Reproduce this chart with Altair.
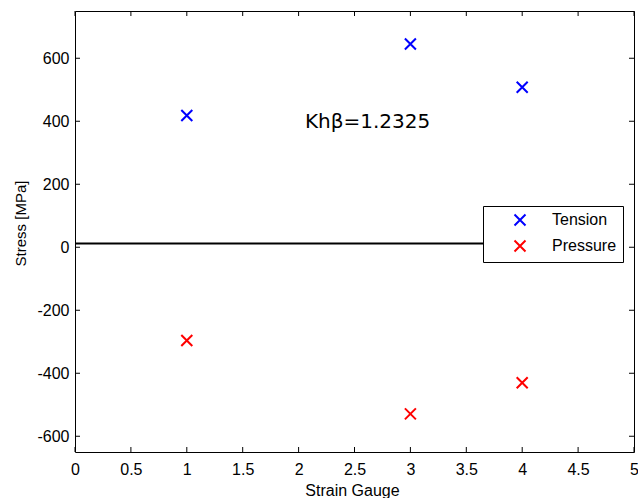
import altair as alt
import pandas as pd

# Strain gauge readings (MPa)
gauges = [1, 3, 4]
tension = [418, 645, 508]
pressure = [-296, -529, -430]
series = ["Tension", "Pressure"]
colors = ["#0000FF", "#FF0000"]

# Reference level line and annotation
ref_level = 12
ref_from, ref_to = 0, 4.5
note_text = "Khβ=1.2325"
note_x, note_y = 2.617, 378

# Axis ticks
x_ticks = [0, 0.5, 1, 1.5, 2, 2.5, 3, 3.5, 4, 4.5, 5]
y_ticks = [-600, -400, -200, 0, 200, 400, 600]
x_domain = [0, 5]
y_domain = [-650, 750]

W, H = 559, 441
FONT = "Liberation Sans"
TICK = 5

points = pd.DataFrame({
    "gauge": gauges * 2,
    "stress": tension + pressure,
    "series": [series[0]] * len(gauges) + [series[1]] * len(gauges),
})
xt = pd.DataFrame({"gauge": x_ticks})
yt = pd.DataFrame({"stress": y_ticks})
ref = pd.DataFrame({"gauge": [ref_from], "gauge2": [ref_to], "stress": [ref_level]})
note = pd.DataFrame({"gauge": [note_x], "stress": [note_y], "label": [note_text]})

xs = alt.Scale(domain=x_domain, nice=False, zero=False)
ys = alt.Scale(domain=y_domain, nice=False, zero=False)

x_axis = alt.Axis(
    values=x_ticks, ticks=False, tickSize=0, domain=False, grid=False,
    labelExpr="toString(datum.value)", labelFont=FONT, labelFontSize=16,
    labelColor="#000000", labelPadding=9, labelFlush=False,
    title="Strain Gauge", titleFont=FONT, titleFontSize=16,
    titleFontWeight="normal", titleColor="#000000",
    titleBaseline="alphabetic", titleY=43, titleX=277,
)
y_axis = alt.Axis(
    values=y_ticks, ticks=False, tickSize=0, domain=False, grid=False,
    labelExpr="toString(datum.value)", labelFont=FONT, labelFontSize=16,
    labelColor="#000000", labelPadding=6, labelFlush=False,
    title="Stress [MPa]", titleFont=FONT, titleFontSize=15,
    titleFontWeight="normal", titleColor="#000000",
    titleBaseline="alphabetic", titleX=-50, titleY=212, titleAngle=-90,
)


def xq(field="gauge"):
    return alt.X(f"{field}:Q", scale=xs, axis=x_axis)


def yq(field="stress"):
    return alt.Y(f"{field}:Q", scale=ys, axis=y_axis)


X_MARK = "M-1,-1L1,1M1,-1L-1,1"

marks = alt.Chart(points).mark_point(
    shape=X_MARK, size=121, filled=False, strokeWidth=2, opacity=1
).encode(
    x=xq(),
    y=yq(),
    color=alt.Color(
        "series:N",
        scale=alt.Scale(domain=series, range=colors),
        sort=series,
        legend=alt.Legend(
            title=None, orient="none", legendX=408, legendY=195,
            fillColor="#FFFFFF", strokeColor="#000000", padding=6,
            symbolType=X_MARK, symbolSize=121, symbolStrokeWidth=2,
            symbolFillColor="transparent", symbolOffset=23,
            labelFont=FONT, labelFontSize=16, labelColor="#000000",
            labelOffset=24, rowPadding=6,
        ),
    ),
)

ref_line = alt.Chart(ref).mark_rule(color="#000000", strokeWidth=2).encode(
    x=xq(), x2="gauge2:Q", y=yq(),
)

label = alt.Chart(note).mark_text(
    font="DejaVu Sans", fontSize=20, color="#000000",
    align="center", baseline="alphabetic",
).encode(
    x=xq(), y=yq(), text="label:N",
)

# Inward tick marks on all four sides
tick_style = dict(color="#000000", strokeWidth=1)
bottom_ticks = alt.Chart(xt).mark_rule(**tick_style).encode(
    x=xq(), y=alt.value(H), y2=alt.value(H - TICK))
top_ticks = alt.Chart(xt).mark_rule(**tick_style).encode(
    x=xq(), y=alt.value(0), y2=alt.value(TICK))
left_ticks = alt.Chart(yt).mark_rule(**tick_style).encode(
    y=yq(), x=alt.value(0), x2=alt.value(TICK))
right_ticks = alt.Chart(yt).mark_rule(**tick_style).encode(
    y=yq(), x=alt.value(W), x2=alt.value(W - TICK))

chart = alt.layer(
    ref_line, bottom_ticks, top_ticks, left_ticks, right_ticks, label, marks
).properties(
    width=W, height=H,
    autosize=alt.AutoSizeParams(type="none"),
    padding={"left": 75, "top": 11, "right": 4, "bottom": 46},
    background="#FFFFFF",
).configure_view(
    stroke="#000000", strokeWidth=1
)

chart.save("out.html", embed_options={"renderer": "svg", "actions": False})
